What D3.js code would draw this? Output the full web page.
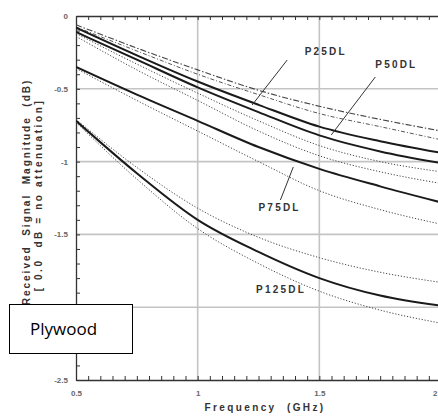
<!DOCTYPE html>
<html><head><meta charset="utf-8">
<script src="https://cdn.jsdelivr.net/npm/d3@7"></script>
<style>body{margin:0;background:#fff}svg{display:block}</style>
</head><body><svg id="c" width="438" height="417"></svg>
<script>
// ---- data ----
const freqs = [0.5, 0.75, 1.0, 1.25, 1.5, 1.75, 2.0];
const p25dlUpperDashDot = [-0.06, -0.22, -0.37, -0.51, -0.62, -0.71, -0.79];
const p25dlLowerDashDot = [-0.075, -0.24, -0.40, -0.54, -0.67, -0.76, -0.85];
const p25dlSolid = [-0.08, -0.27, -0.45, -0.61, -0.76, -0.86, -0.94];
const p50dlSolid = [-0.11, -0.30, -0.49, -0.66, -0.82, -0.93, -1.01];
const p50dlDotA = [-0.12, -0.33, -0.53, -0.72, -0.89, -1.00, -1.07];
const p50dlDotB = [-0.14, -0.37, -0.58, -0.79, -0.96, -1.07, -1.15];
const p75dlSolid = [-0.35, -0.54, -0.72, -0.90, -1.05, -1.17, -1.28];
const p75dlDot = [-0.36, -0.58, -0.79, -1.00, -1.20, -1.33, -1.43];
const p125dlUpperDot = [-0.71, -1.04, -1.32, -1.52, -1.66, -1.76, -1.83];
const p125dlSolid = [-0.72, -1.08, -1.40, -1.62, -1.80, -1.92, -1.99];
const p125dlLowerDot = [-0.73, -1.12, -1.46, -1.70, -1.89, -2.02, -2.11];
const xTickValues = [0.5, 1.0, 1.5, 2.0];
const xTickLabels = ["0.5", "1", "1.5", "2"];
const yTickValues = [0, -0.5, -1, -1.5, -2, -2.5];
const yTickLabels = ["0", "-0.5", "-1", "-1.5", "-2", "-2.5"];
const curveLabels = ["P25DL", "P50DL", "P75DL", "P125DL"];
// leader lines: [f0, v0, f1, v1]
const leaders = [[1.368, -0.302, 1.224, -0.611], [1.730, -0.419, 1.549, -0.817], [1.393, -1.037, 1.340, -1.264]];
const labelAnchors = [[1.44, -0.27], [1.73, -0.36], [1.25, -1.34], [1.24, -1.90]];

// ---- drawing ----
const svg = d3.select("#c");
const x = d3.scaleLinear().domain([0.5, 2.0]).range([76, 441]);
const y = d3.scaleLinear().domain([0, -2.5]).range([16, 380]);

// grid
const grid = svg.append("g").attr("stroke", "#c4c4c4").attr("stroke-width", 1.6);
[1.0, 1.5, 2.0].forEach(f => grid.append("line").attr("x1", x(f)).attr("x2", x(f)).attr("y1", y(0)).attr("y2", y(-2.5)));
[-0.5, -1, -1.5, -2].forEach(v => grid.append("line").attr("x1", x(0.5)).attr("x2", x(2.0)).attr("y1", y(v)).attr("y2", y(v)));

// minor ticks axes
const minorX = d3.range(0.5, 2.0001, 0.05);
const minorY = d3.range(0, -2.5001, -0.1);
function styleAxis(g) {
  g.selectAll("path").attr("stroke", "#333").attr("stroke-width", 1.3);
  g.selectAll("line").attr("stroke", "#333").attr("stroke-width", 1);
}
svg.append("g").attr("transform", `translate(${x(0.5)},0)`)
  .call(d3.axisLeft(y).tickValues(minorY).tickSizeInner(-4).tickSizeOuter(0).tickFormat(""))
  .call(styleAxis);
svg.append("g").attr("transform", `translate(0,${y(0)})`)
  .call(d3.axisTop(x).tickValues(minorX).tickSizeInner(-4).tickSizeOuter(0).tickFormat(""))
  .call(styleAxis);
svg.append("g").attr("transform", `translate(0,${y(-2.5)})`)
  .call(d3.axisBottom(x).tickValues(minorX).tickSizeInner(-4).tickSizeOuter(0).tickFormat(""))
  .call(styleAxis);

// tick labels
const yl = svg.append("g").attr("transform", `translate(${x(0.5)},0)`)
  .call(d3.axisLeft(y).tickValues(yTickValues).tickSize(0).tickPadding(8).tickFormat((d, i) => yTickLabels[i]));
yl.select("path").remove();
yl.selectAll("text").attr("font-family", "Liberation Sans, Arial, sans-serif").attr("font-size", 8).attr("font-weight", "bold").attr("fill", "#666");
const xl = svg.append("g").attr("transform", `translate(0,${y(-2.5)})`)
  .call(d3.axisBottom(x).tickValues(xTickValues).tickSize(0).tickPadding(10).tickFormat((d, i) => xTickLabels[i]));
xl.select("path").remove();
xl.selectAll("text").attr("font-family", "Liberation Sans, Arial, sans-serif").attr("font-size", 8).attr("font-weight", "bold").attr("fill", "#666");
// last label sits at the window edge: keep it fully visible
xl.selectAll("text").filter((d, i) => i === xTickValues.length - 1).attr("text-anchor", "end").attr("dx", -4);

// series
const series = [
  {v: p25dlUpperDashDot, w: 1.1, dash: "6,2,1.5,2", c: "#444"},
  {v: p25dlLowerDashDot, w: 1.0, dash: "4,2,1,2", c: "#555"},
  {v: p25dlSolid, w: 2.0, dash: null, c: "#1a1a1a"},
  {v: p50dlSolid, w: 2.0, dash: null, c: "#1a1a1a"},
  {v: p50dlDotA, w: 1.0, dash: "1.2,1.8", c: "#444"},
  {v: p50dlDotB, w: 1.0, dash: "1.2,1.8", c: "#444"},
  {v: p75dlSolid, w: 2.0, dash: null, c: "#1a1a1a"},
  {v: p75dlDot, w: 1.0, dash: "1.2,1.8", c: "#444"},
  {v: p125dlUpperDot, w: 1.0, dash: "1.2,1.8", c: "#444"},
  {v: p125dlSolid, w: 2.0, dash: null, c: "#1a1a1a"},
  {v: p125dlLowerDot, w: 1.0, dash: "1.2,1.8", c: "#444"}
];
svg.append("clipPath").attr("id", "pc").append("rect").attr("x", x(0.5)).attr("y", y(0)).attr("width", x(2.0) - x(0.5)).attr("height", y(-2.5) - y(0));
const line = d3.line().x((d, i) => x(freqs[i])).y(d => y(d)).curve(d3.curveMonotoneX);
const lg = svg.append("g").attr("clip-path", "url(#pc)");
series.forEach(s => {
  lg.append("path").attr("d", line(s.v)).attr("fill", "none").attr("stroke", s.c)
    .attr("stroke-width", s.w).attr("stroke-dasharray", s.dash);
});

// leaders
leaders.forEach(l => svg.append("line").attr("x1", x(l[0])).attr("y1", y(l[1])).attr("x2", x(l[2])).attr("y2", y(l[3]))
  .attr("stroke", "#333").attr("stroke-width", 1));

// curve labels
curveLabels.forEach((t, i) => svg.append("text").attr("x", x(labelAnchors[i][0])).attr("y", y(labelAnchors[i][1]))
  .attr("font-family", "Liberation Sans, Arial, sans-serif").attr("font-size", 10).attr("font-weight", "bold")
  .attr("letter-spacing", 2.2).attr("fill", "#333").text(t));

// axis titles
svg.append("text").attr("x", 265).attr("y", 411).attr("text-anchor", "middle")
  .attr("font-family", "Liberation Sans, Arial, sans-serif").attr("font-size", 10).attr("font-weight", "bold")
  .attr("letter-spacing", 2.4).attr("fill", "#333").style("white-space", "pre").text("Frequency  (GHz)");
svg.append("text").attr("transform", "translate(30,192) rotate(-90)").attr("text-anchor", "middle")
  .attr("font-family", "Liberation Sans, Arial, sans-serif").attr("font-size", 10).attr("font-weight", "bold")
  .attr("letter-spacing", 2).attr("fill", "#333").style("white-space", "pre").text("Received  Signal  Magnitude  (dB)");
svg.append("text").attr("transform", "translate(42,195) rotate(-90)").attr("text-anchor", "middle")
  .attr("font-family", "Liberation Sans, Arial, sans-serif").attr("font-size", 10).attr("font-weight", "bold")
  .attr("letter-spacing", 2.6).attr("fill", "#333").style("white-space", "pre").text("[ 0.0  dB = no attenuation]");

// Plywood box
svg.append("rect").attr("x", 9.5).attr("y", 304.5).attr("width", 123).attr("height", 49)
  .attr("fill", "#fff").attr("stroke", "#000").attr("stroke-width", 1);
svg.append("text").attr("x", 30).attr("y", 335).attr("font-family", "Open Sans, Noto Sans, sans-serif")
  .attr("font-size", 17).attr("fill", "#000").text("Plywood");
</script></body></html>
